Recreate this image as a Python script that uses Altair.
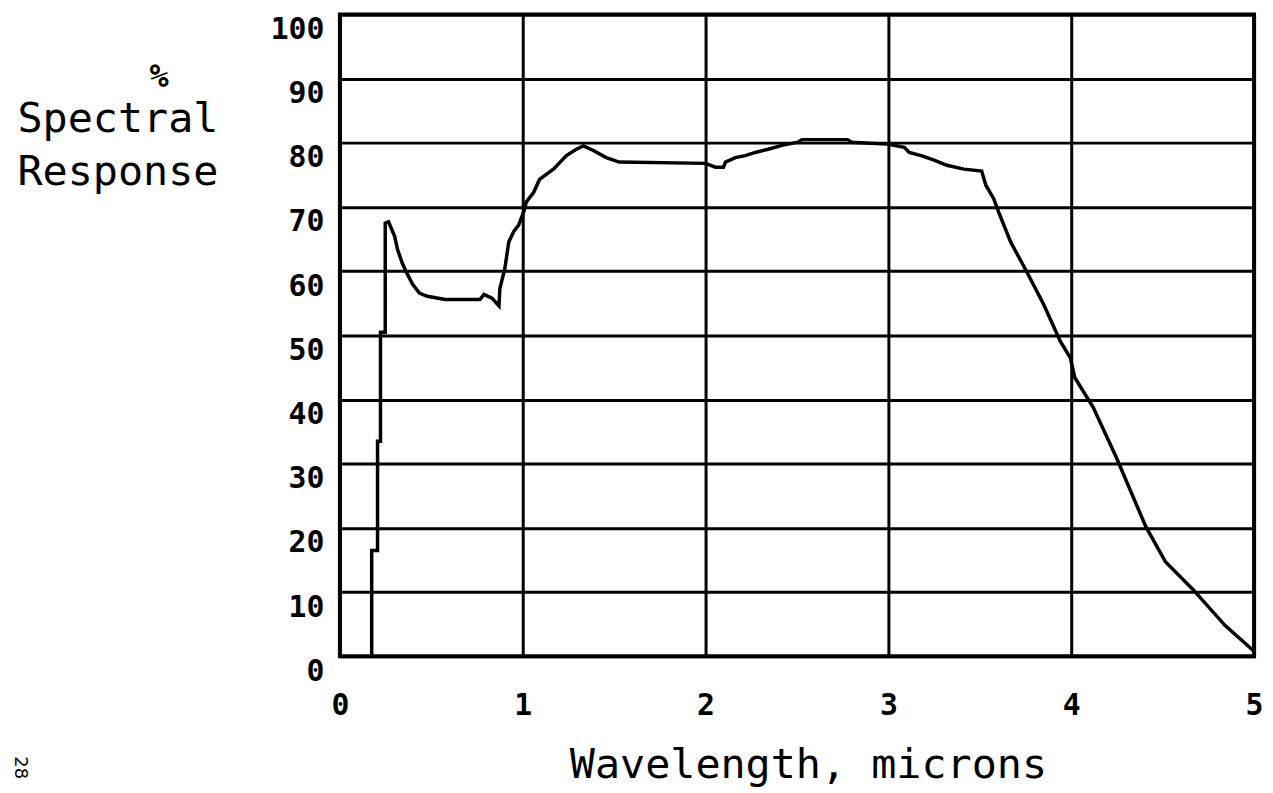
import altair as alt
import pandas as pd

wavelength = [0.174, 0.174, 0.206, 0.206, 0.222, 0.222, 0.248, 0.248,
              0.266, 0.30, 0.315, 0.342, 0.37, 0.397, 0.435, 0.478, 0.576,
              0.766, 0.788, 0.832, 0.87, 0.875, 0.902, 0.924, 0.951, 0.978,
              1.005, 1.02, 1.06, 1.092, 1.168, 1.239, 1.293, 1.332, 1.386,
              1.457, 1.527, 2.0, 2.054, 2.098, 2.109, 2.163, 2.217, 2.272,
              2.342, 2.418, 2.505, 2.527, 2.777, 2.799, 2.995, 3.087, 3.114,
              3.179, 3.25, 3.32, 3.413, 3.51, 3.533, 3.576, 3.603, 3.668,
              3.755, 3.848, 3.94, 3.995, 4.02, 4.12, 4.245, 4.408, 4.516,
              4.663, 4.842, 5.0]
response = [0, 16.5, 16.5, 33.5, 33.5, 50.5, 50.5, 67.5,
            67.7, 65.4, 63.4, 61.2, 59.5, 58.0, 56.6, 56.1, 55.6,
            55.6, 56.4, 55.8, 54.6, 57.3, 60.4, 64.6, 66.2, 67.2,
            69.2, 70.8, 72.3, 74.3, 75.9, 78.0, 79.0, 79.5, 78.8,
            77.7, 77.0, 76.8, 76.2, 76.2, 77.0, 77.7, 78.0, 78.5,
            79.0, 79.6, 80.1, 80.5, 80.5, 80.1, 79.8, 79.3, 78.5,
            78.0, 77.3, 76.5, 75.9, 75.6, 73.4, 71.3, 69.2, 64.6,
            60.0, 54.9, 49.1, 46.5, 43.4, 38.8, 31.1, 20.2, 14.7,
            10.5, 4.8, 0.8]

x_ticks = [0, 1, 2, 3, 4, 5]
y_ticks = [0, 10, 20, 30, 40, 50, 60, 70, 80, 90, 100]

df = pd.DataFrame({"w": wavelength, "r": response, "i": list(range(len(wavelength)))})

MONO = "DejaVu Sans Mono"

line = alt.Chart(df).mark_line(color="black", strokeWidth=3.5, interpolate="linear").encode(
    x=alt.X("w:Q",
            scale=alt.Scale(domain=[0, 5], nice=False, zero=False),
            axis=alt.Axis(values=x_ticks, title="Wavelength, microns",
                          titleFont=MONO, titleFontSize=42, titleFontWeight="normal",
                          titleColor="black", titleAlign="center", titleAnchor="middle",
                          titleBaseline="alphabetic", titleX=471, titleY=122,
                          labelFont=MONO, labelFontSize=30, labelFontWeight="bold",
                          labelColor="black", labelBaseline="top", labelPadding=35,
                          labelFlush=False, labelOverlap=False,
                          ticks=False, tickSize=0, domain=False,
                          grid=True, gridColor="black", gridWidth=3, gridOpacity=1)),
    y=alt.Y("r:Q",
            scale=alt.Scale(domain=[0, 100], nice=False, zero=False),
            axis=alt.Axis(values=y_ticks, title=["Spectral", "Response"],
                          titleFont=MONO, titleFontSize=42, titleFontWeight="normal",
                          titleColor="black", titleAngle=0, titleAlign="left",
                          titleBaseline="alphabetic", titleX=-325, titleY=118,
                          titleLineHeight=53,
                          labelFont=MONO, labelFontSize=30, labelFontWeight="bold",
                          labelColor="black", labelAlign="right", labelBaseline="middle",
                          labelOffset=15, labelPadding=16,
                          labelFlush=False, labelOverlap=False,
                          ticks=False, tickSize=0, domain=False,
                          grid=True, gridColor="black", gridWidth=3, gridOpacity=1)),
    order="i:Q",
)

pct = alt.Chart(pd.DataFrame({"t": ["%"]})).mark_text(
    font=MONO, fontSize=32, fontWeight="bold", color="black",
    align="center", baseline="middle"
).encode(x=alt.value(-182), y=alt.value(63), text="t:N")

page = alt.Chart(pd.DataFrame({"t": ["28"]})).mark_text(
    font="DejaVu Sans", fontSize=18, color="black", angle=90,
    align="center", baseline="middle"
).encode(x=alt.value(-322), y=alt.value(758), text="t:N")

chart = alt.layer(line, pct, page).properties(
    width=920, height=646,
    autosize=alt.AutoSizeParams(type="none"),
    padding={"left": 334, "top": 4, "right": 11, "bottom": 130},
    background="white",
).configure_view(stroke="black", strokeWidth=4)

chart.save("out.html", embed_options={"renderer": "svg", "actions": False})
